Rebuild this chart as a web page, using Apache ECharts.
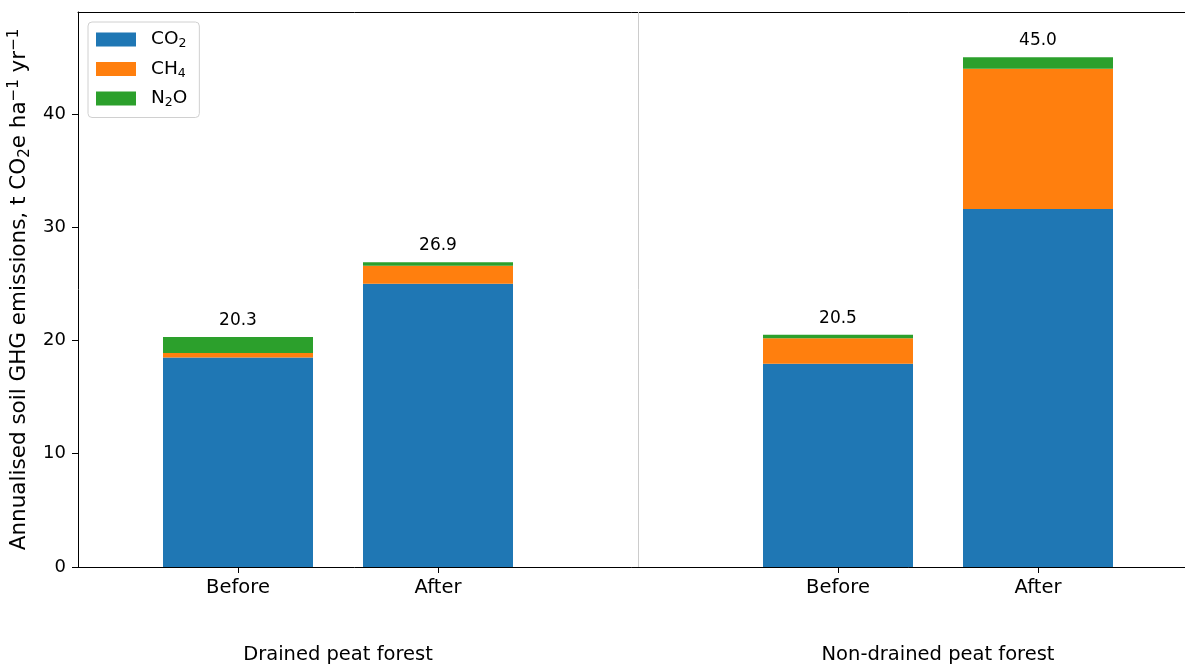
<!DOCTYPE html>
<html>
<head>
<meta charset="utf-8">
<script src="https://cdn.jsdelivr.net/npm/echarts@6/dist/echarts.min.js"></script>
<style>
  html, body { margin: 0; padding: 0; background: #fff; }
  #chart { width: 1185px; height: 664px; }
</style>
</head>
<body>
<div id="chart"></div>
<script>
// ---------------- data ----------------
const xPos = [0, 1, 3, 4];
const tickNames = ['Before', 'After', 'Before', 'After'];
const groupNames = ['Drained peat forest', 'Non-drained peat forest'];
const groupPos = [0.5, 3.5];
const co2 = [18.5, 25.0, 17.95, 31.6];
const ch4 = [0.4, 1.6, 2.25, 12.4];
const n2o = [1.4, 0.3, 0.3, 1.0];
const totals = [20.3, 26.9, 20.5, 45.0];
const yTicks = [0, 10, 20, 30, 40];

const font = 'DejaVu Sans';
const barW = 0.75;

// stacked pieces: [x, bottom, top]
function pieces(base, vals) {
  return xPos.map((x, i) => [x, base[i], base[i] + vals[i]]);
}
const zeros = xPos.map(() => 0);
const co2Top = co2.map((v, i) => v);
const ch4Top = co2.map((v, i) => v + ch4[i]);

// 柱子：用自定义系列画堆叠矩形
function renderBar(params, api) {
  const x = api.value(0);
  const lo = api.coord([x, api.value(1)]);
  const hi = api.coord([x, api.value(2)]);
  const w = api.size([barW, 0])[0];
  return {
    type: 'rect',
    shape: { x: lo[0] - w / 2, y: hi[1], width: w, height: lo[1] - hi[1] },
    style: api.style()
  };
}

function renderTopBar(params, api) {
  const el = renderBar(params, api);
  el.textContent = {
    style: {
      text: totals[params.dataIndex].toFixed(1),
      fontSize: 17,
      fontFamily: font,
      fill: '#000'
    }
  };
  el.textConfig = { position: 'top', distance: 8 };
  return el;
}

function chart() {
  let myChart = echarts.init(document.querySelector('#chart'));

  let option = {
    animation: false,
    textStyle: { fontFamily: font },
    grid: {
      left: 78,
      right: -13,
      top: 12,
      bottom: 97,
      containLabel: false,
      outerBoundsMode: 'none'
    },
    legend: {
      orient: 'vertical',
      left: 88,
      top: 22,
      itemWidth: 40,
      itemHeight: 14,
      itemGap: 9,
      padding: [8, 12, 8, 8],
      borderColor: '#d0d0d0',
      borderWidth: 1,
      borderRadius: 4,
      backgroundColor: 'rgba(255,255,255,0.8)',
      icon: 'rect',
      data: ['CO2', 'CH4', 'N2O'],
      formatter: function (name) {
        if (name === 'CO2') return '{f|CO}{s|2}';
        if (name === 'CH4') return '{f|CH}{s|4}';
        return '{f|N}{s|2}{n|O}';
      },
      textStyle: {
        fontFamily: font,
        color: '#000',
        rich: {
          f: { fontSize: 18.5, fontFamily: font, color: '#000', padding: [0, 0, 0, 10] },
          n: { fontSize: 18.5, fontFamily: font, color: '#000' },
          s: { fontSize: 12.5, fontFamily: font, color: '#000', padding: [9, 0, 0, 0] }
        }
      }
    },
    xAxis: [
      {
        type: 'value',
        min: -0.8,
        max: 4.8,
        splitLine: { show: false },
        axisLine: { show: true, onZero: false, lineStyle: { color: '#000' } },
        axisTick: { show: true, length: 6, customValues: xPos, lineStyle: { color: '#000' } },
        axisLabel: {
          customValues: xPos,
          fontSize: 19.5,
          color: '#000',
          margin: 11,
          formatter: function (v) {
            return tickNames[xPos.indexOf(v)] || '';
          }
        }
      },
      {
        type: 'value',
        position: 'bottom',
        min: -0.8,
        max: 4.8,
        splitLine: { show: false },
        axisLine: { show: false },
        axisTick: { show: false },
        axisLabel: {
          customValues: groupPos,
          fontSize: 19.5,
          color: '#000',
          margin: 78,
          formatter: function (v) {
            return groupNames[groupPos.indexOf(v)] || '';
          }
        }
      },
      {
        // 顶部边框线
        type: 'value',
        position: 'top',
        min: -0.8,
        max: 4.8,
        splitLine: { show: false },
        axisLine: { show: true, onZero: false, lineStyle: { color: '#000' } },
        axisTick: { show: false },
        axisLabel: { show: false }
      }
    ],
    yAxis: {
      type: 'value',
      min: 0,
      max: 49,
      interval: 10,
      splitLine: { show: false },
      axisLine: { show: true, onZero: false, lineStyle: { color: '#000' } },
      axisTick: { show: true, length: 6, customValues: yTicks, lineStyle: { color: '#000' } },
      axisLabel: { customValues: yTicks, fontSize: 18, color: '#000', margin: 12 },
      name: 'Annualised soil GHG emissions, t CO{sub|2}e ha{sup|\u22121} yr{sup|\u22121}',
      nameLocation: 'middle',
      nameRotate: 90,
      nameGap: 44,
      nameTextStyle: {
        fontSize: 21.5,
        color: '#000',
        fontFamily: font,
        rich: {
          sub: { fontSize: 15, fontFamily: font, color: '#000', padding: [11, 0, 0, 0] },
          sup: { fontSize: 15, fontFamily: font, color: '#000', padding: [0, 0, 11, 0] }
        }
      }
    },
    series: [
      {
        name: 'CO2',
        type: 'custom',
        renderItem: renderBar,
        itemStyle: { color: '#1f77b4' },
        encode: { x: 0, y: [1, 2] },
        data: pieces(zeros, co2),
        markLine: {
          silent: true,
          symbol: 'none',
          label: { show: false },
          lineStyle: { color: '#cccccc', type: 'solid', width: 1 },
          data: [{ xAxis: 2 }]
        }
      },
      {
        name: 'CH4',
        type: 'custom',
        renderItem: renderBar,
        itemStyle: { color: '#ff7f0e' },
        encode: { x: 0, y: [1, 2] },
        data: pieces(co2Top, ch4)
      },
      {
        name: 'N2O',
        type: 'custom',
        renderItem: renderTopBar,
        itemStyle: { color: '#2ca02c' },
        encode: { x: 0, y: [1, 2] },
        data: pieces(ch4Top, n2o)
      }
    ]
  };
  myChart.setOption(option);
}
chart();
</script>
</body>
</html>
